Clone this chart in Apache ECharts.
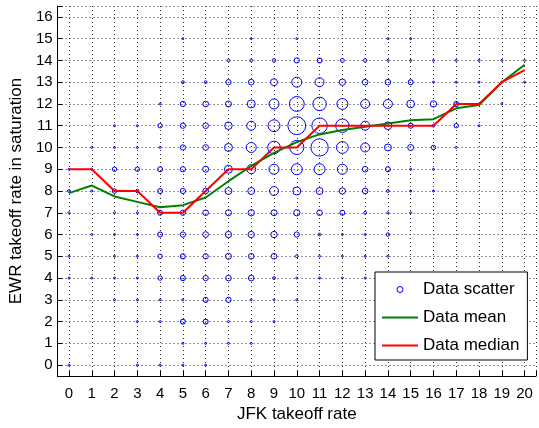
<!DOCTYPE html>
<html>
<head>
<meta charset="utf-8">
<script src="https://cdn.jsdelivr.net/npm/echarts@6/dist/echarts.min.js"></script>
<style>
  html, body { margin: 0; padding: 0; background: #fff; }
  #main-chart { width: 539px; height: 428px; }
</style>
</head>
<body>
<div id="main-chart"></div>
<script>
// JFK takeoff rate (x) and EWR rate levels (y)
const jfkRates = [0, 1, 2, 3, 4, 5, 6, 7, 8, 9, 10, 11, 12, 13, 14, 15, 16, 17, 18, 19, 20];
const ewrRates = [0, 1, 2, 3, 4, 5, 6, 7, 8, 9, 10, 11, 12, 13, 14, 15, 16];

// estimated number of observations, one row per JFK rate, indexed by EWR rate 0..16
const scatterCounts = [
    [1, 0, 0, 0, 1, 1, 0, 1, 2, 1, 0, 0, 0, 0, 0, 0, 0],
    [0, 0, 0, 0, 1, 0, 1, 0, 1, 1, 1, 0, 0, 0, 0, 0, 0],
    [0, 0, 0, 1, 1, 1, 1, 1, 5, 5, 1, 1, 0, 0, 0, 0, 0],
    [1, 0, 1, 1, 1, 1, 1, 1, 3, 5, 1, 1, 0, 0, 0, 0, 0],
    [1, 0, 1, 1, 5, 5, 6, 6, 6, 6, 1, 5, 1, 0, 0, 0, 0],
    [1, 1, 6, 1, 6, 6, 7, 7, 7, 7, 7, 7, 7, 2, 0, 1, 0],
    [1, 1, 6, 6, 7, 7, 8, 8, 8, 9, 8, 8, 8, 2, 0, 0, 0],
    [0, 1, 1, 7, 8, 9, 10, 9, 12, 16, 16, 14, 9, 7, 2, 0, 0],
    [0, 1, 1, 1, 8, 8, 10, 10, 12, 20, 25, 20, 16, 8, 2, 1, 0],
    [0, 0, 1, 1, 2, 8, 10, 9, 20, 25, 40, 35, 25, 12, 3, 0, 0],
    [0, 0, 0, 1, 1, 2, 7, 10, 16, 30, 50, 80, 55, 25, 7, 1, 0],
    [0, 0, 0, 0, 1, 1, 2, 8, 12, 30, 75, 60, 45, 20, 6, 0, 0],
    [0, 0, 0, 0, 1, 1, 1, 6, 10, 25, 35, 45, 30, 10, 4, 0, 0],
    [0, 0, 0, 0, 1, 1, 1, 2, 8, 8, 20, 20, 20, 8, 3, 0, 0],
    [0, 0, 0, 0, 0, 1, 3, 1, 2, 6, 12, 15, 20, 8, 1, 1, 0],
    [0, 0, 0, 0, 0, 0, 0, 1, 1, 1, 9, 6, 15, 6, 1, 1, 0],
    [0, 0, 0, 0, 0, 0, 0, 0, 1, 1, 5, 2, 10, 1, 1, 0, 0],
    [0, 0, 0, 0, 0, 0, 0, 0, 0, 0, 1, 5, 6, 1, 1, 0, 0],
    [0, 0, 0, 0, 0, 0, 0, 0, 0, 0, 0, 1, 1, 1, 1, 0, 0],
    [0, 0, 0, 0, 0, 0, 0, 0, 0, 0, 0, 0, 1, 1, 1, 0, 0],
    [0, 0, 0, 0, 0, 0, 0, 0, 0, 0, 0, 0, 0, 1, 1, 0, 0]
];

const meanValues = [7.9, 8.25, 7.75, 7.5, 7.25, 7.35, 7.7, 8.45, 9.15, 9.75, 10.25,
    10.6, 10.8, 10.95, 11.1, 11.25, 11.3, 11.8, 11.95, 13.0, 13.8];
const medianValues = [9, 9, 8, 8, 7, 7, 8, 9, 9, 10, 10, 11, 11, 11, 11, 11, 11, 12, 12, 13, 13.55];

const fontName = 'Liberation Sans, Arial, Helvetica, sans-serif';

// build the bubble points (skip empty cells)
let bubbles = [];
jfkRates.forEach((x, i) => {
    ewrRates.forEach((y, j) => {
        const n = scatterCounts[i][j];
        if (n > 0) bubbles.push([x, y, n]);
    });
});

const chartDom = document.getElementById('main-chart');
const myChart = echarts.init(chartDom, null, { renderer: 'canvas' });

// hidden symbol so the legend only shows the line
const noMarker = { color: 'rgba(0,0,0,0)', borderColor: 'rgba(0,0,0,0)', borderWidth: 0 };

const option = {
    animation: false,
    backgroundColor: '#fff',
    textStyle: { fontFamily: fontName },
    grid: { left: 56, right: -3, top: 6, bottom: 50 },
    xAxis: {
        type: 'value',
        min: -0.5,
        max: 20.5,
        splitNumber: 21,
        name: 'JFK takeoff rate',
        nameLocation: 'middle',
        nameGap: 30,
        nameTextStyle: { color: '#000', fontSize: 17, fontFamily: fontName },
        axisLine: { onZero: false, lineStyle: { color: '#000', width: 1 } },
        axisTick: { inside: true, length: 5, lineStyle: { color: '#000' } },
        axisLabel: {
            color: '#000', fontSize: 15, margin: 10, fontFamily: fontName,
            formatter: v => Number.isInteger(v) ? String(v) : ''
        },
        splitLine: { show: true, lineStyle: { color: '#333', type: [1, 3], width: 1 } }
    },
    yAxis: {
        type: 'value',
        min: -0.5,
        max: 16.5,
        splitNumber: 17,
        name: 'EWR takeoff rate in saturation',
        nameLocation: 'middle',
        nameGap: 27,
        nameTextStyle: { color: '#000', fontSize: 17, fontFamily: fontName },
        axisLine: { show: true, onZero: false, lineStyle: { color: '#000', width: 1 } },
        axisTick: { show: true, inside: true, length: 5, lineStyle: { color: '#000' } },
        axisLabel: {
            color: '#000', fontSize: 15, margin: 5, fontFamily: fontName,
            formatter: v => Number.isInteger(v) ? String(v) : ''
        },
        splitLine: { show: true, lineStyle: { color: '#333', type: [1, 3], width: 1 } }
    },
    legend: {
        orient: 'vertical',
        left: 375,
        top: 272,
        padding: [9, 8, 6, 6],
        itemGap: 11,
        itemWidth: 36,
        itemHeight: 6,
        backgroundColor: '#fff',
        borderColor: '#000',
        borderWidth: 1,
        borderRadius: 0,
        textStyle: { color: '#000', fontSize: 17, fontFamily: fontName, lineHeight: 17 },
        data: [
            { name: 'Data scatter', icon: 'circle',
              itemStyle: { color: 'rgba(0,0,0,0)', borderColor: '#0000ff', borderWidth: 1 } },
            { name: 'Data mean', itemStyle: noMarker },
            { name: 'Data median', itemStyle: noMarker }
        ]
    },
    series: [
        {
            name: 'Data scatter',
            type: 'scatter',
            data: bubbles,
            symbol: 'circle',
            symbolSize: val => 2 * Math.sqrt(val[2]),
            itemStyle: { color: 'rgba(0,0,0,0)', borderColor: '#0000ff', borderWidth: 1, opacity: 1 },
            emphasis: { disabled: true },
            z: 2
        },
        {
            name: 'Data mean',
            type: 'line',
            data: jfkRates.map((x, i) => [x, meanValues[i]]),
            symbol: 'none',
            lineStyle: { color: '#008000', width: 2 },
            itemStyle: { color: '#008000' },
            z: 3
        },
        {
            name: 'Data median',
            type: 'line',
            data: jfkRates.map((x, i) => [x, medianValues[i]]),
            symbol: 'none',
            lineStyle: { color: '#ff0000', width: 2 },
            itemStyle: { color: '#ff0000' },
            z: 4
        }
    ]
};

myChart.setOption(option);
</script>
</body>
</html>
